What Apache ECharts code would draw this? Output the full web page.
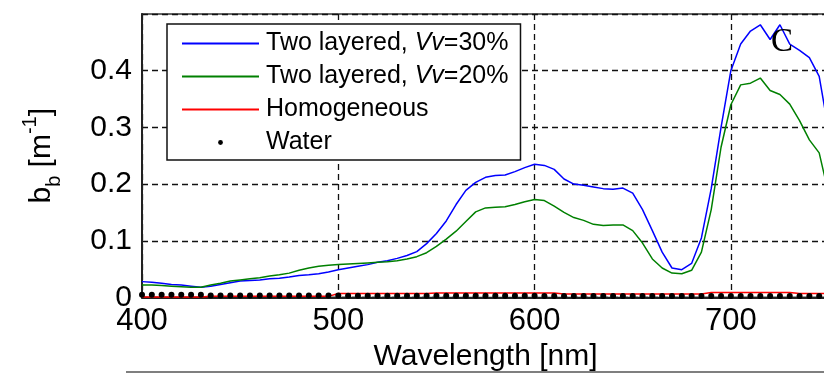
<!DOCTYPE html>
<html>
<head>
<meta charset="utf-8">
<script src="https://cdn.jsdelivr.net/npm/echarts@6/dist/echarts.min.js"></script>
<style>
  html, body { margin: 0; padding: 0; background: #fff; }
  #chart { width: 824px; height: 373px; }
</style>
</head>
<body>
<div id="chart"></div>
<script>
// Wavelength grid [nm]
const wavelengths = [400,405,410,415,420,425,430,435,440,445,450,455,460,465,470,475,480,485,490,495,
  500,505,510,515,520,525,530,535,540,545,550,555,560,565,570,575,580,585,590,595,
  600,605,610,615,620,625,630,635,640,645,650,655,660,665,670,675,680,685,690,695,
  700,705,710,715,720,725,730,735,740,745,750];

// Backscattering coefficient b_b [m^-1]
const twoLayered30 = [0.028,0.027,0.025,0.023,0.022,0.020,0.018,0.020,0.023,0.026,0.029,0.030,0.031,0.033,0.034,0.036,0.039,0.040,0.042,0.045,
  0.049,0.052,0.055,0.058,0.062,0.065,0.069,0.074,0.081,0.095,0.113,0.135,0.164,0.189,0.203,0.212,0.215,0.216,0.222,0.229,
  0.235,0.233,0.226,0.209,0.200,0.198,0.195,0.192,0.191,0.193,0.184,0.155,0.118,0.080,0.052,0.049,0.060,0.105,0.192,0.300,
  0.400,0.447,0.470,0.481,0.455,0.481,0.447,0.436,0.423,0.390,0.290];

const twoLayered20 = [0.022,0.022,0.021,0.020,0.019,0.018,0.018,0.022,0.025,0.029,0.031,0.033,0.035,0.038,0.040,0.043,0.048,0.052,0.055,0.057,
  0.058,0.059,0.060,0.061,0.062,0.063,0.065,0.068,0.072,0.079,0.090,0.103,0.117,0.134,0.151,0.158,0.159,0.160,0.164,0.169,
  0.173,0.171,0.161,0.150,0.141,0.136,0.129,0.127,0.128,0.128,0.118,0.096,0.068,0.052,0.043,0.042,0.048,0.080,0.155,0.265,
  0.340,0.375,0.378,0.387,0.365,0.358,0.341,0.312,0.278,0.255,0.180];

const homogeneous = [0.001,0.001,0.001,0.001,0.001,0.001,0.001,
  0.002,0.002,0.002,0.002,0.002,0.002,0.002,0.002,0.002,0.002,0.002,0.002,0.002,
  0.007,0.007,0.007,0.007,0.007,0.007,0.007,0.007,0.007,0.007,
  0.008,0.008,0.008,0.008,0.008,0.008,0.008,0.008,0.008,0.008,0.008,0.008,0.008,
  0.006,0.006,0.006,0.006,0.006,0.006,0.006,0.006,0.006,0.006,0.006,0.006,0.006,0.006,0.006,
  0.009,0.009,0.009,0.009,0.009,0.009,0.009,0.009,0.009,
  0.007,0.007,0.007,0.007];

const water = [0.005,0.005,0.005,0.005,0.005,0.005,0.005,
  0.0035,0.0035,0.0035,0.0035,0.0035,0.0035,0.0035,0.0035,0.0035,0.0035,0.0035,0.0035,0.0035,0.0035,
  0.003,0.003,0.003,0.003,0.003,0.003,0.003,0.003,0.003,0.003,0.003,0.003,0.003,0.003,0.003,0.003,0.003,0.003,0.003,0.003,
  0.0028,0.0028,0.0028,0.0028,0.0028,0.0028,0.0028,0.0028,0.0028,0.0028,0.0028,0.0028,0.0028,0.0028,0.0028,
  0.0028,0.0028,0.0028,0.0028,0.0028,0.0028,0.0028,0.0028,0.0028,0.0028,0.0028,0.0028,0.0028,0.0028,0.0028];

const seriesNames = ['Two layered, Vv=30%', 'Two layered, Vv=20%', 'Homogeneous', 'Water'];
const xTicks = [400, 500, 600, 700];
const yTicks = [0, 0.1, 0.2, 0.3, 0.4];

const pairs = vals => wavelengths.map((w, i) => [w, vals[i]]);
const FONT = "'Liberation Sans', Arial, sans-serif";

const chart = echarts.init(document.getElementById('chart'));
chart.setOption({
  animation: false,
  backgroundColor: '#fff',
  grid: {
    left: 142, top: 14, width: 687, height: 283.5,
    outerBoundsMode: 'none', containLabel: false,
    show: true, borderColor: '#333', borderWidth: 1.5, backgroundColor: 'transparent'
  },
  xAxis: {
    type: 'value', min: 400, max: 750, interval: 100,
    name: 'Wavelength [nm]', nameLocation: 'middle', nameGap: 43,
    nameTextStyle: { fontFamily: FONT, fontSize: 30, color: '#000' },
    axisLine: { lineStyle: { color: '#222', width: 2 } },
    axisTick: { show: false },
    axisLabel: {
      margin: 8, fontFamily: FONT, fontSize: 31, color: '#000',
      formatter: v => xTicks.includes(v) ? String(v) : ''
    },
    splitLine: { show: true, lineStyle: { color: '#111', width: 1.3, type: [6, 4] } }
  },
  yAxis: {
    type: 'value', min: 0, max: 0.5, interval: 0.1,
    name: '{n|b}{sub|b}{n| [m}{sup|-1}{n|]}', nameLocation: 'middle', nameGap: 78, nameRotate: 90,
    nameTextStyle: {
      fontFamily: FONT, color: '#000',
      rich: {
        n: { fontFamily: FONT, fontSize: 30, lineHeight: 44, color: '#000' },
        sub: { fontFamily: FONT, fontSize: 20, lineHeight: 20, verticalAlign: 'bottom', color: '#000' },
        sup: { fontFamily: FONT, fontSize: 20, lineHeight: 20, verticalAlign: 'top', color: '#000' }
      }
    },
    axisLine: { show: true, lineStyle: { color: '#222', width: 2 } },
    axisTick: { show: false },
    axisLabel: {
      margin: 10, fontFamily: FONT, fontSize: 30, color: '#000',
      formatter: v => {
        const t = yTicks.find(k => Math.abs(k - v) < 1e-9);
        return t === undefined ? '' : String(t);
      }
    },
    splitLine: { show: true, lineStyle: { color: '#111', width: 1.3, type: [6, 4] } }
  },
  legend: {
    orient: 'vertical', left: 167, top: 24,
    padding: [7, 12, 5, 14],
    itemWidth: 77, itemHeight: 6, itemGap: 8,
    backgroundColor: '#fff', borderColor: '#111', borderWidth: 1.5,
    data: [
      { name: seriesNames[0], itemStyle: { opacity: 0 } },
      { name: seriesNames[1], itemStyle: { opacity: 0 } },
      { name: seriesNames[2], itemStyle: { opacity: 0 } },
      { name: seriesNames[3] }
    ],
    formatter: name => name.replace('Vv', '{i|Vv}'),
    textStyle: {
      fontFamily: FONT, fontSize: 25, lineHeight: 25, color: '#000', padding: [0, 0, 0, 2],
      rich: { i: { fontFamily: FONT, fontSize: 25, fontStyle: 'italic', color: '#000' } }
    }
  },
  series: [
    {
      name: seriesNames[0], type: 'line', data: pairs(twoLayered30), symbol: 'none',
      lineStyle: { color: '#0000ff', width: 1.5 }, itemStyle: { color: '#0000ff' }
    },
    {
      name: seriesNames[1], type: 'line', data: pairs(twoLayered20), symbol: 'none',
      lineStyle: { color: '#008000', width: 1.5 }, itemStyle: { color: '#008000' }
    },
    {
      name: seriesNames[2], type: 'line', data: pairs(homogeneous), symbol: 'none',
      lineStyle: { color: '#ff0000', width: 1.5 }, itemStyle: { color: '#ff0000' }
    },
    {
      name: seriesNames[3], type: 'line', data: pairs(water),
      symbol: 'circle', symbolSize: 6, showSymbol: true,
      lineStyle: { width: 0, opacity: 0 }, itemStyle: { color: '#000' }
    }
  ],
  graphic: [
    {
      type: 'text', left: 771, top: 26, z: 100,
      style: { text: 'C', fontFamily: "'Liberation Serif', 'Times New Roman', serif", fontSize: 33, fill: '#000' }
    },
    {
      type: 'line', z: 100,
      shape: { x1: 126, y1: 372, x2: 824, y2: 372 },
      style: { stroke: '#555', lineWidth: 1.5 }
    }
  ]
});
</script>
</body>
</html>
